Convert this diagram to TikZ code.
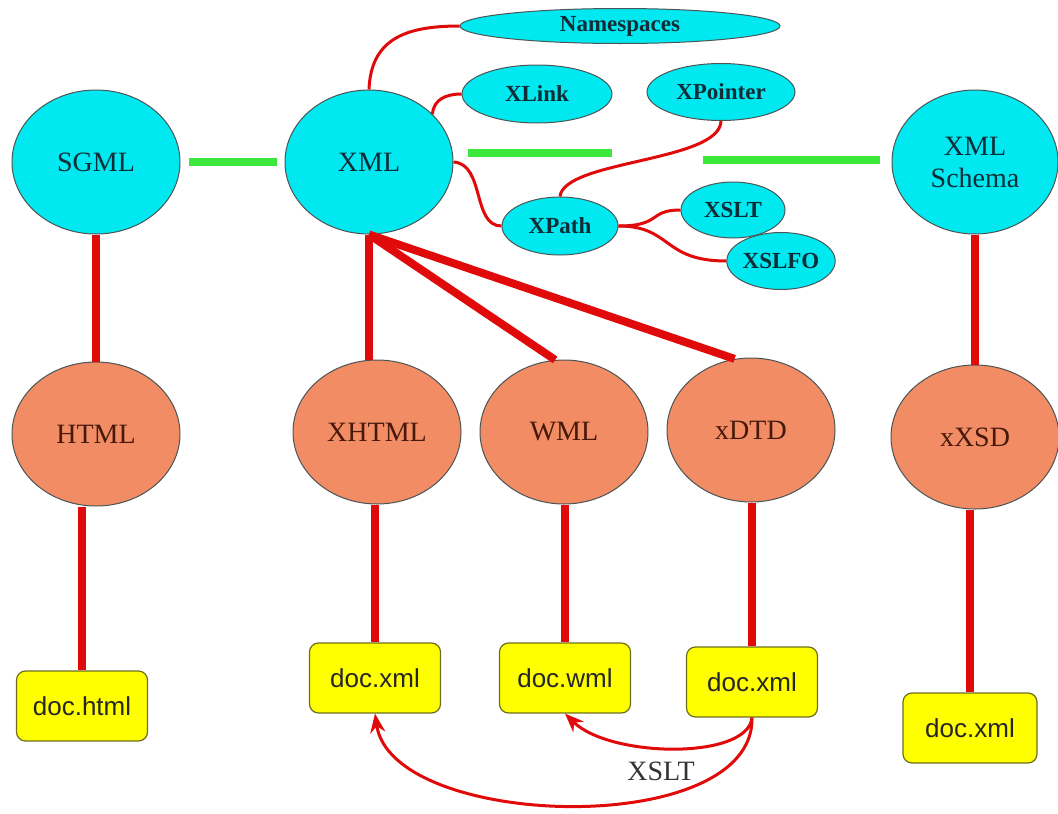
\documentclass[tikz,border=0pt]{standalone}
\usepackage{fontspec}
\setmainfont{Liberation Serif}
\setsansfont{Liberation Sans}
\usepackage{xcolor}
\usepackage{tikz}
\usetikzlibrary{shapes.geometric, arrows.meta, positioning, calc}

\definecolor{speccyan}{RGB}{0,232,240}
\definecolor{dialorange}{RGB}{242,140,100}
\definecolor{docyellow}{RGB}{255,255,0}
\definecolor{boxolive}{RGB}{110,110,30}
\definecolor{edgegray}{RGB}{75,85,85}
\definecolor{linkred}{RGB}{225,10,10}
\definecolor{bargreen}{RGB}{60,232,60}
\definecolor{cyantext}{RGB}{15,45,55}
\definecolor{orangetext}{RGB}{70,25,10}

\begin{document}
\begin{tikzpicture}[x=1pt, y=-1pt,
    bigell/.style={ellipse, draw=edgegray, line width=1pt, inner sep=0pt, minimum width=168pt, minimum height=144pt, align=center, font=\fontsize{28}{32}\selectfont},
    spec/.style={bigell, fill=speccyan, text=cyantext},
    dialect/.style={bigell, fill=dialorange, text=orangetext},
    tech/.style={ellipse, draw=edgegray, line width=1pt, inner sep=0pt, fill=speccyan, text=cyantext, font=\bfseries\fontsize{23}{26}\selectfont},
    docbox/.style={draw=boxolive, line width=1.2pt, rounded corners=9pt, fill=docyellow, minimum width=131pt, minimum height=70pt, text=black!85, font=\sffamily\fontsize{26}{30}\selectfont},
    thickred/.style={draw=linkred, line width=8pt},
    thinred/.style={draw=linkred, line width=3pt},
    greenbar/.style={draw=bargreen, line width=8pt},
    xsltarrow/.style={thinred, -{Stealth[length=19pt, width=15pt]}}
]
    \useasboundingbox (0,0) rectangle (1058,814);

    \node[spec] (sgml) at (96,162) {SGML};
    \node[spec] (xml) at (369,162) {XML};
    \node[spec, minimum width=166pt] (schema) at (975,162) {XML\\Schema};

    \node[dialect] (html) at (96,434) {HTML};
    \node[dialect] (xhtml) at (377,432) {XHTML};
    \node[dialect] (wml) at (564,432) {WML};
    \node[dialect] (xdtd) at (751,430) {xDTD};
    \node[dialect] (xxsd) at (975,437) {xXSD};

    \node[tech, minimum width=320pt, minimum height=35pt] (ns) at (620,26) {Namespaces};
    \node[tech, minimum width=150pt, minimum height=58pt] (xlink) at (537,94) {XLink};
    \node[tech, minimum width=148pt, minimum height=57pt] (xpointer) at (721,92) {XPointer};
    \node[tech, minimum width=116pt, minimum height=58pt] (xpath) at (560,226) {XPath};
    \node[tech, minimum width=104pt, minimum height=56pt] (xslt) at (733,210) {XSLT};
    \node[tech, minimum width=105pt, minimum height=57pt] (xslfo) at (781,261) {XSLFO};

    \node[docbox] (dochtml) at (82,706) {doc.html};
    \node[docbox] (docxmla) at (375,678) {doc.xml};
    \node[docbox] (docwml) at (565,678) {doc.wml};
    \node[docbox] (docxmlb) at (752,682) {doc.xml};
    \node[docbox, minimum width=134pt] (docxmlc) at (970,728) {doc.xml};

    % green bars
    \coordinate (gapl) at (612,153);
    \coordinate (gapr) at (703,160);
    \draw[greenbar] ([xshift=8pt]sgml.east) -- ([xshift=-8pt]xml.west);
    \draw[greenbar] ([xshift=14pt,yshift=9pt]xml.east) -- (gapl);
    \draw[greenbar] (gapr) -- ([xshift=-12pt,yshift=2pt]schema.west);

    % thick links
    \draw[thickred] (sgml.south) -- (html.north);
    \draw[thickred] (xml.south) -- (xml.south |- xhtml.north);
    \draw[thickred] (xml.south) -- (wml.97);
    \draw[thickred] (xml.south) -- (xdtd.103);
    \draw[thickred] (schema.south) -- (xxsd.north);
    \draw[thickred] (dochtml.north |- html.south) -- (dochtml.north);
    \draw[thickred] (docxmla.north |- xhtml.south) -- (docxmla.north);
    \draw[thickred] (docwml.north |- wml.south) -- (docwml.north);
    \draw[thickred] (docxmlb.north |- xdtd.south) -- (docxmlb.north);
    \draw[thickred] (docxmlc.north |- xxsd.south) -- (docxmlc.north);

    % thin links
    \draw[thinred] (xml.north) .. controls +(2,-50) and +(-55,0) .. (ns.west);
    \draw[thinred] (xml.37) .. controls +(1,-15) and +(-15,0) .. (xlink.west);
    \draw[thinred] (xml.east) .. controls (485,164) and (472,226) .. (xpath.west);
    \draw[thinred] (xpath.north) .. controls (564,160) and (720,162) .. (xpointer.south);
    \draw[thinred] (xpath.east) .. controls (662,226) and (648,210) .. (xslt.west);
    \draw[thinred] (xpath.east) .. controls (672,226) and (662,261) .. (xslfo.west);

    % transformations
    \draw[xsltarrow] (docxmlb.south) .. controls (748,760) and (610,758) .. (docwml.south);
    \draw[xsltarrow] (docxmlb.south) .. controls (755,840) and (392,830) .. (docxmla.south);
    \node[text=black!80, font=\fontsize{28}{32}\selectfont] (xsltlabel) at (661,771) {XSLT};
\end{tikzpicture}
\end{document}
